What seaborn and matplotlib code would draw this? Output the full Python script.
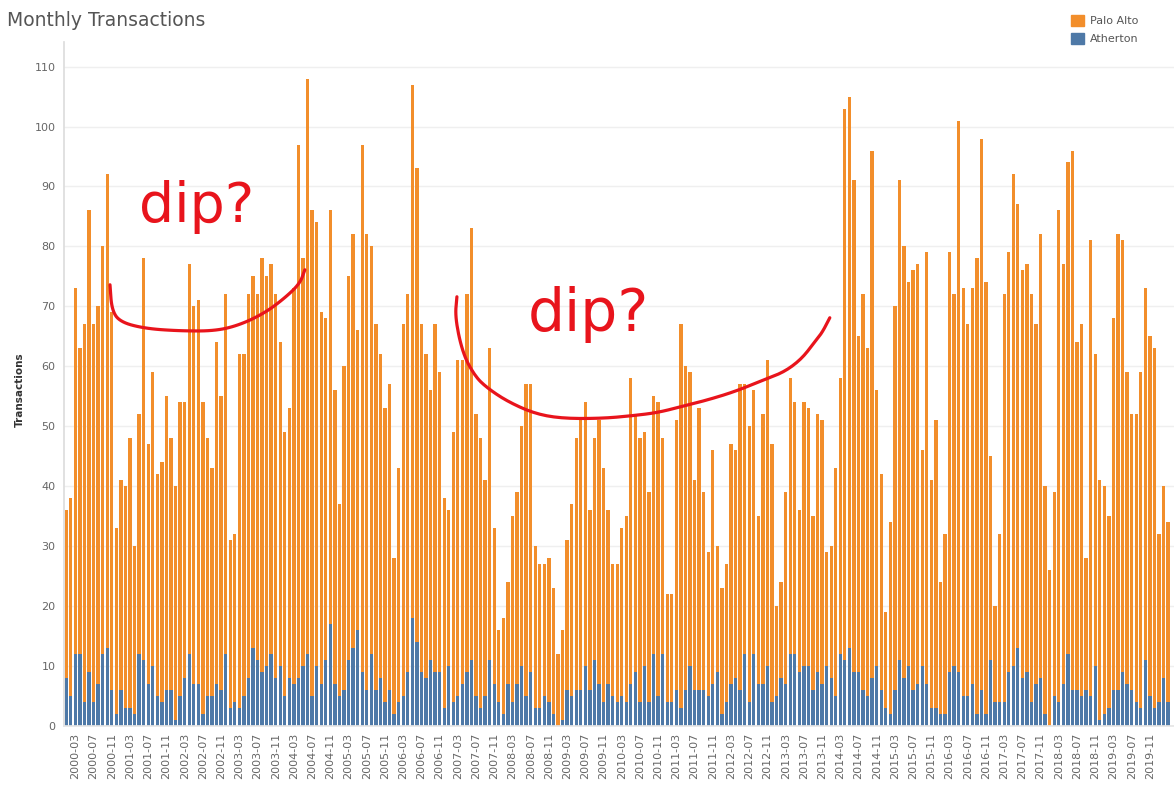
import pandas as pd
import numpy as np
import matplotlib.pyplot as plt
import seaborn as sns
from matplotlib.patches import Patch

sns.set_theme(style="white")
plt.rcParams["font.family"] = ["DejaVu Sans"]

# ------------------------------------------------------------
# DATA (one row per year)
# ------------------------------------------------------------
months = pd.period_range("2000-01", "2020-03", freq="M").strftime("%Y-%m").tolist()

# height of the whole stacked bar (Palo Alto + Atherton)
stack_total = [
    36, 38, 73, 63, 67, 86, 67, 70, 80, 92, 69, 33,      # 2000
    41, 40, 48, 30, 52, 78, 47, 59, 42, 44, 55, 48,      # 2001
    40, 54, 54, 77, 70, 71, 54, 48, 43, 64, 55, 72,      # 2002
    31, 32, 62, 62, 72, 75, 72, 78, 75, 77, 72, 64,      # 2003
    49, 53, 73, 97, 78, 108, 86, 84, 69, 68, 86, 56,     # 2004
    37, 60, 75, 82, 66, 97, 82, 80, 67, 62, 53, 57,      # 2005
    28, 43, 67, 72, 107, 93, 67, 62, 56, 67, 59, 38,     # 2006
    36, 49, 61, 61, 72, 83, 52, 48, 41, 63, 33, 16,      # 2007
    18, 24, 35, 39, 50, 57, 57, 30, 27, 27, 28, 23,      # 2008
    12, 16, 31, 37, 48, 51, 54, 36, 48, 51, 43, 36,      # 2009
    27, 27, 33, 35, 58, 52, 48, 49, 39, 55, 54, 48,      # 2010
    22, 22, 51, 67, 60, 59, 41, 53, 39, 29, 46, 30,      # 2011
    23, 27, 47, 46, 57, 57, 50, 56, 35, 52, 61, 47,      # 2012
    20, 24, 39, 58, 54, 36, 54, 53, 35, 52, 51, 29,      # 2013
    30, 43, 58, 103, 105, 91, 65, 72, 63, 96, 56, 42,    # 2014
    19, 34, 70, 91, 80, 74, 76, 77, 46, 79, 41, 51,      # 2015
    24, 32, 79, 72, 101, 73, 67, 73, 78, 98, 74, 45,     # 2016
    20, 32, 72, 79, 92, 87, 76, 77, 72, 67, 82, 40,      # 2017
    26, 39, 86, 77, 94, 96, 64, 67, 28, 81, 62, 41,      # 2018
    40, 35, 68, 82, 81, 59, 52, 52, 59, 73, 65, 63,      # 2019
    32, 40, 34,                                          # 2020
]

atherton = [
    8, 5, 12, 12, 4, 9, 4, 7, 12, 13, 6, 2,
    6, 3, 3, 2, 12, 11, 7, 10, 5, 4, 6, 6,
    1, 5, 8, 12, 7, 7, 2, 5, 5, 7, 6, 12,
    3, 4, 3, 5, 8, 13, 11, 9, 10, 12, 8, 10,
    5, 8, 7, 8, 10, 12, 5, 10, 7, 11, 17, 7,
    5, 6, 11, 13, 16, 9, 6, 12, 6, 8, 4, 6,
    2, 4, 5, 9, 18, 14, 9, 8, 11, 9, 9, 3,
    10, 4, 5, 7, 9, 11, 5, 3, 5, 11, 7, 4,
    2, 7, 4, 7, 10, 5, 9, 3, 3, 5, 4, 2,
    0, 1, 6, 5, 6, 6, 10, 6, 11, 7, 4, 7,
    5, 4, 5, 4, 7, 9, 4, 10, 4, 12, 5, 12,
    4, 4, 6, 3, 6, 10, 6, 6, 6, 5, 7, 9,
    2, 4, 7, 8, 6, 12, 4, 12, 7, 7, 10, 4,
    5, 8, 7, 12, 12, 9, 10, 10, 6, 9, 7, 10,
    8, 5, 12, 11, 13, 9, 9, 6, 5, 8, 10, 6,
    3, 2, 6, 11, 8, 10, 6, 7, 10, 7, 3, 3,
    2, 2, 9, 10, 9, 5, 5, 7, 2, 6, 2, 11,
    4, 4, 4, 9, 10, 13, 8, 9, 4, 7, 8, 2,
    0, 5, 4, 7, 12, 6, 6, 5, 6, 5, 10, 1,
    2, 3, 6, 6, 9, 7, 6, 4, 3, 11, 5, 3,
    4, 8, 4,
]

# hand-drawn red annotations (month index, transactions)
dip1_x = [9.6, 10.0, 11.8, 17.3, 25.0, 32.7, 38.1, 43.6, 48.0, 51.3, 52.4]
dip1_y = [73.6, 69.4, 67.4, 66.3, 65.9, 65.9, 66.9, 68.9, 71.4, 73.8, 76.1]
dip2_x = [85.8, 85.4, 87.1, 89.8, 92.6, 97.0, 102.9, 108.9, 117.7, 124.9,
          130.0, 135.2, 140.9, 146.9, 153.4, 157.8, 161.6, 164.4, 166.0, 167.7]
dip2_y = [71.6, 68.1, 62.1, 58.3, 56.3, 54.1, 52.1, 51.3, 51.3, 51.8,
          52.3, 53.3, 54.4, 55.8, 57.8, 59.1, 61.3, 64.1, 65.6, 68.1]

df = pd.DataFrame({"month": months, "total": stack_total, "atherton": atherton})
df["palo_alto"] = df["total"] - df["atherton"]

ORANGE = "#F28E2B"
BLUE = "#4E79A7"
RED = "#E8141C"


def smooth(xs, ys, rounds=3):
    # Chaikin corner cutting so the pen strokes look less angular
    pts = np.column_stack([xs, ys])
    for _ in range(rounds):
        q = 0.75 * pts[:-1] + 0.25 * pts[1:]
        r = 0.25 * pts[:-1] + 0.75 * pts[1:]
        mid = np.empty((2 * len(q), 2))
        mid[0::2], mid[1::2] = q, r
        pts = np.vstack([pts[:1], mid, pts[-1:]])
    return pts[:, 0], pts[:, 1]


# ------------------------------------------------------------
# FIGURE
# ------------------------------------------------------------
W, H = 1174, 792
fig = plt.figure(figsize=(W / 100, H / 100), dpi=100)
ax = fig.add_axes([64 / W, (H - 726) / H, (W - 64) / W, (726 - 42) / H])

# stacked bars: Palo Alto on top of Atherton
sns.barplot(data=df, x="month", y="total", color=ORANGE, saturation=1,
            width=0.73, errorbar=None, linewidth=0, ax=ax)
sns.barplot(data=df, x="month", y="atherton", color=BLUE, saturation=1,
            width=0.73, errorbar=None, linewidth=0, ax=ax)

ax.set_xlim(-0.5, 243.3)
ax.set_ylim(0, 114.1)

ax.set_yticks(range(0, 111, 10))
ax.yaxis.grid(True, color="#efefef", lw=1)
ax.set_axisbelow(True)
ax.tick_params(axis="y", labelsize=8, labelcolor="#666666", length=0, pad=6)

tick_pos = list(range(2, 239, 4))
ax.set_xticks(tick_pos)
ax.set_xticklabels([months[i] for i in tick_pos], rotation=90)
ax.tick_params(axis="x", labelsize=8, labelcolor="#666666", length=0, pad=5)

ax.set_xlabel("")
ax.set_ylabel("")
for side in ["top", "right"]:
    ax.spines[side].set_visible(False)
ax.spines["left"].set_color("#dddddd")
ax.spines["bottom"].set_color("#e6e6e6")

# annotations
for cx, cy in [(dip1_x, dip1_y), (dip2_x, dip2_y)]:
    sx, sy = smooth(cx, cy)
    ax.plot(sx, sy, color=RED, lw=2.3, solid_capstyle="round",
            solid_joinstyle="round", zorder=5)
ax.text(28.7, 86.5, "dip?", fontsize=40, color=RED, ha="center", va="center", zorder=6)
ax.text(114.6, 68.6, "dip?", fontsize=42, color=RED, ha="center", va="center", zorder=6)

# titles and legend
fig.text(7 / W, 1 - 20 / H, "Monthly Transactions", fontsize=13.5,
         color="#555555", ha="left", va="center")
fig.text(20 / W, 1 - 390 / H, "Transactions", rotation=90, fontsize=7.5,
         fontweight="bold", color="#333333", ha="center", va="center")

handles = [Patch(color=ORANGE, label="Palo Alto"), Patch(color=BLUE, label="Atherton")]
fig.legend(handles=handles, loc="upper left", bbox_to_anchor=(1071 / W, 1 - 15 / H),
           frameon=False, fontsize=8, labelcolor="#555555", handlelength=1.2,
           handleheight=1.2, handletextpad=0.5, labelspacing=0.55,
           borderaxespad=0, borderpad=0)

fig.savefig("out.png", dpi=100)
